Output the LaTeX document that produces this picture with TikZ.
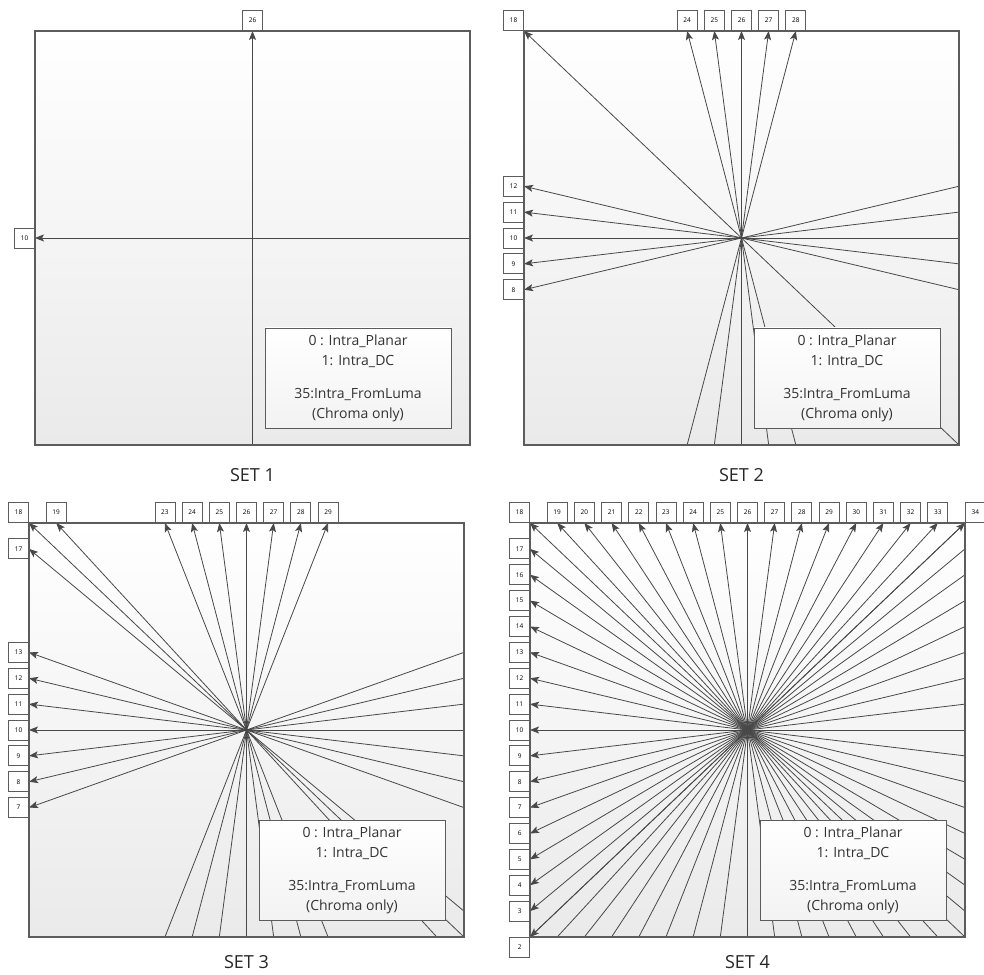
\documentclass[tikz,border=0pt]{standalone}
\usepackage{fontspec}
\setmainfont{Open Sans}
\usetikzlibrary{arrows.meta,calc}

\definecolor{raygray}{HTML}{484848}
\definecolor{edgegray}{HTML}{5C5C5C}
\definecolor{panelgray}{HTML}{EAEAEA}

% one panel: prefix, lower left x, lower left y, top modes, left modes
\newcommand{\dirpanel}[5]{%
  \begin{scope}[shift={(#2,#3)}]
    \fill[top color=white, bottom color=panelgray] (0,0) rectangle (435,414);
    \coordinate (#1c) at (217.5,207);
    \foreach \k/\anc in {#4} {
      \node[modebox, anchor=\anc] (#1m\k) at ({217.5+(\k-26)*27.1875},414) {\k};
      \draw[ray] ($(#1c)!-1!(#1m\k.\anc)$) -- (#1m\k.\anc);
    }
    \foreach \k/\anc in {#5} {
      \node[modebox, anchor=\anc] (#1m\k) at (0,{207+(\k-10)*25.875}) {\k};
      \draw[ray] ($(#1c)!-1!(#1m\k.\anc)$) -- (#1m\k.\anc);
    }
    \draw[edgegray, line width=1.1pt] (0,0) rectangle (435,414);
    \node[keybox] (#1key) at (323,67)
      {0 : Intra\_Planar\\1: Intra\_DC\\[13pt]35:Intra\_FromLuma\\(Chroma only)};
  \end{scope}}

\begin{document}
\begin{tikzpicture}[x=1pt,y=1pt,
  modebox/.style={draw=edgegray, fill=white, line width=0.8pt, minimum size=20pt,
    inner sep=0pt, font=\fontsize{6.5}{7}\selectfont},
  ray/.style={raygray, line width=0.8pt, -{Stealth[length=9pt, width=7pt, inset=2pt]}},
  keybox/.style={draw=edgegray, line width=0.9pt, top color=white, bottom color=panelgray!60,
    minimum width=186pt, minimum height=100pt, inner sep=0pt, align=center,
    font=\fontsize{14}{20}\selectfont, text=black!80},
  setlabel/.style={font=\fontsize{18}{20}\selectfont, text=black!85}]
\useasboundingbox (0,0) rectangle (984,974);

\dirpanel{a}{35}{529}{26/south}{10/east}
\dirpanel{b}{524}{529}{18/south east,24/south,25/south,26/south,27/south,28/south}%
  {8/east,9/east,10/east,11/east,12/east}
\dirpanel{c}{29}{37}{18/south east,19/south,23/south,24/south,25/south,26/south,27/south,28/south,29/south}%
  {7/east,8/east,9/east,10/east,11/east,12/east,13/east,17/east}
\dirpanel{d}{530}{37}{18/south east,19/south,20/south,21/south,22/south,23/south,24/south,25/south,26/south,%
  27/south,28/south,29/south,30/south,31/south,32/south,33/south,34/south west}%
  {2/north east,3/east,4/east,5/east,6/east,7/east,8/east,9/east,10/east,11/east,12/east,13/east,%
  14/east,15/east,16/east,17/east}

\node[setlabel] (set1) at (252.5,499) {SET 1};
\node[setlabel] (set2) at (741.5,499) {SET 2};
\node[setlabel] (set3) at (246.5,12) {SET 3};
\node[setlabel] (set4) at (747.5,12) {SET 4};
\end{tikzpicture}
\end{document}
